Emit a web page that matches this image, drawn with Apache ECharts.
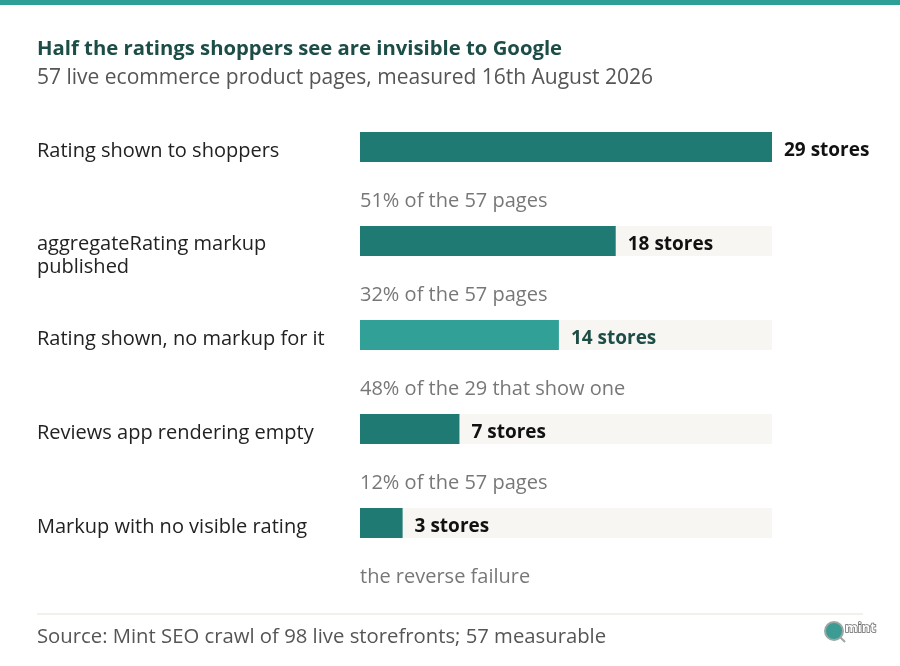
<!DOCTYPE html>
<html>
<head>
<meta charset="utf-8">
<script src="https://cdn.jsdelivr.net/npm/echarts@6/dist/echarts.min.js"></script>
<style>
  html, body { margin: 0; padding: 0; background: #ffffff; }
  #chart { width: 900px; height: 666px; }
</style>
</head>
<body>
<div id="chart"></div>
<script>
const categories = [
  "Rating shown to shoppers",
  "aggregateRating markup\npublished",
  "Rating shown, no markup for it",
  "Reviews app rendering empty",
  "Markup with no visible rating"
];
const storeCounts = [29, 18, 14, 7, 3];
const notes = [
  "51% of the 57 pages",
  "32% of the 57 pages",
  "48% of the 29 that show one",
  "12% of the 57 pages",
  "the reverse failure"
];
const highlightIndex = 2;
const maxStores = 29;

const FONT = "'Open Sans', sans-serif";
const barColor = "#1f7a74";
const highlightColor = "#31a097";

const chart = echarts.init(document.getElementById('chart'), null, { renderer: 'canvas' });

chart.setOption({
  backgroundColor: '#ffffff',
  animation: false,
  title: {
    text: 'Half the ratings shoppers see are invisible to Google',
    subtext: '57 live ecommerce product pages, measured 16th August 2026',
    left: 32,
    top: 34,
    itemGap: 9,
    textStyle: { fontFamily: FONT, fontSize: 20.3, fontWeight: 'bold', color: '#1d4d47' },
    subtextStyle: { fontFamily: FONT, fontSize: 21, color: '#555555' }
  },
  grid: { left: 360, right: 128, top: 100, bottom: 96 },
  xAxis: {
    type: 'value', min: 0, max: maxStores, show: false
  },
  yAxis: {
    type: 'category',
    inverse: true,
    data: categories,
    axisLine: { show: false },
    axisTick: { show: false },
    splitLine: { show: false },
    axisLabel: {
      align: 'left',
      margin: 323,
      fontFamily: FONT,
      fontSize: 20,
      color: '#222222',
      lineHeight: 23,
      formatter: function (v) {
        const lines = v.split('\n');
        const spacer = lines.length > 1 ? '{s2| }' : '{s1| }';
        return spacer + '\n' + lines.map(l => '{t|' + l + '}').join('\n');
      },
      rich: {
        s1: { lineHeight: 8, fontSize: 2 },
        s2: { lineHeight: 30, fontSize: 2 },
        t: { fontFamily: FONT, fontSize: 20, color: '#222222', lineHeight: 23 }
      }
    }
  },
  series: [
    {
      type: 'bar',
      data: storeCounts.map((v, i) => ({
        value: v,
        itemStyle: { color: i === highlightIndex ? highlightColor : barColor },
        label: { color: i === highlightIndex ? '#1d4d47' : '#111111' }
      })),
      barWidth: 30,
      showBackground: true,
      backgroundStyle: { color: '#f8f6f2' },
      label: {
        show: true,
        position: 'right',
        distance: 12,
        offset: [0, 4],
        fontFamily: FONT,
        fontSize: 19,
        fontWeight: 'bold',
        formatter: p => p.value + ' stores'
      }
    },
    {
      type: 'scatter',
      data: notes.map((n, i) => [0, i]),
      symbolSize: 2,
      itemStyle: { color: 'rgba(0,0,0,0)' },
      clip: false,
      silent: true,
      z: 5,
      label: {
        show: true,
        position: 'right',
        distance: 0,
        offset: [-1, 54],
        fontFamily: FONT,
        fontSize: 20,
        color: '#555555',
        formatter: p => notes[p.dataIndex]
      }
    }
  ],
  graphic: [
    { type: 'rect', left: 0, top: 0, shape: { width: 900, height: 5 }, style: { fill: '#2e9f97' } },
    { type: 'line', shape: { x1: 37, y1: 614, x2: 863, y2: 614 }, style: { stroke: '#e6e2d6', lineWidth: 1 } },
    { type: 'text', left: 37, top: 627, style: { text: 'Source: Mint SEO crawl of 98 live storefronts; 57 measurable', font: "20.3px 'Open Sans', sans-serif", fill: '#555555' } },
    { type: 'circle', shape: { cx: 834, cy: 631, r: 9 }, style: { fill: '#3c9c93', stroke: '#9aa7a5', lineWidth: 2 } },
    { type: 'line', shape: { x1: 840, y1: 637, x2: 845, y2: 642 }, style: { stroke: '#9aa7a5', lineWidth: 2 } },
    { type: 'text', x: 845, y: 622, style: { text: 'mint', font: "bold 13px 'Open Sans', sans-serif", fill: '#ffffff', stroke: '#666', lineWidth: 1.5 } }
  ]
});
</script>
</body>
</html>
